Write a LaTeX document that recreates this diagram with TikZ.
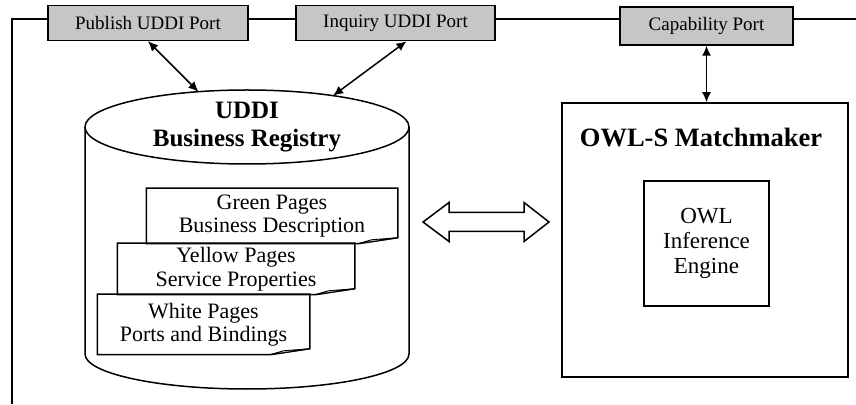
\documentclass[tikz,border=0pt]{standalone}
\usepackage{fontspec}
\setmainfont{Liberation Serif}
\usetikzlibrary{arrows.meta,positioning,shapes.geometric}

\begin{document}
\begin{tikzpicture}[
    x=1pt, y=1pt,
    line width=1.5pt,
    port/.style={rectangle, draw, fill=gray!45, minimum height=35pt, inner sep=0pt, font=\fontsize{19}{21}\selectfont},
    page/.style={rectangle, inner sep=0pt, align=center, font=\fontsize{22}{23.5}\selectfont},
    heading/.style={font=\bfseries\fontsize{25}{27.5}\selectfont, align=center},
    link/.style={{Latex[length=10pt,width=9pt]}-{Latex[length=10pt,width=9pt]}, line width=1.5pt},
]
\useasboundingbox (0,0) rectangle (856,404);

% frame
\draw (12,0) -- (12,385) -- (856,385);

\node[port, minimum width=200pt] (publish) at (148,381) {Publish UDDI Port};
\node[port, minimum width=199pt] (inquiry) at (395.5,381) {Inquiry UDDI Port};
\node[port, minimum width=173pt, minimum height=38pt] (capability) at (706.5,378) {Capability Port};

% registry cylinder
\node[ellipse, draw, fill=white, minimum width=324pt, minimum height=74pt, inner sep=0pt, outer sep=0pt, heading] (registry) at (247,277) {UDDI\\Business Registry};
\draw (registry.west) -- ++(0,-227) arc[start angle=180, end angle=360, x radius=162pt, y radius=35pt] -- (registry.east);

\node[page, minimum width=250pt, minimum height=54pt] (green) at (272,188) {Green Pages\\Business Description};
\node[page, minimum width=236pt, minimum height=50pt] (yellow) at (236,135) {Yellow Pages\\Service Properties};
\node[page, minimum width=211pt, minimum height=59pt] (white) at (203.5,79.5) {White Pages\\Ports and Bindings};
\foreach \pg in {green,yellow,white} {
  \draw (\pg.north west) -- (\pg.north east) -- ([yshift=6pt]\pg.south east) -- ([xshift=-40pt]\pg.south east) -- (\pg.south west) -- cycle;
  \draw[fill=gray!25, line width=0.9pt] ([xshift=-40pt]\pg.south east) -- ([xshift=-26pt,yshift=4pt]\pg.south east) -- ([yshift=6pt]\pg.south east) -- cycle;
}

% exchange arrow
\coordinate (swap) at (486,182);
\draw (swap) ++(-63,0) -- ++(26,19.5) -- ++(0,-10) -- ++(75,0) -- ++(0,10) -- ++(25,-19.5) -- ++(-25,-19.5) -- ++(0,10) -- ++(-75,0) -- ++(0,-10) -- cycle;

% matchmaker
\node[rectangle, draw, minimum width=286pt, minimum height=274pt] (matchmaker) at (705,164) {};
\node[heading, anchor=base, font=\bfseries\fontsize{26.5}{28}\selectfont] (mtitle) at (701,257) {OWL-S Matchmaker};
\node[page, draw, minimum width=125pt, minimum height=125pt, font=\fontsize{23}{25}\selectfont] (engine) at (706.5,160.5) {OWL\\Inference\\Engine};

\draw[link] (publish.south) -- (registry.144);
\draw[link] ([xshift=11pt]inquiry.south) -- (registry.20);
\draw[link] (capability.south) -- (capability.south |- matchmaker.north);
\end{tikzpicture}
\end{document}
